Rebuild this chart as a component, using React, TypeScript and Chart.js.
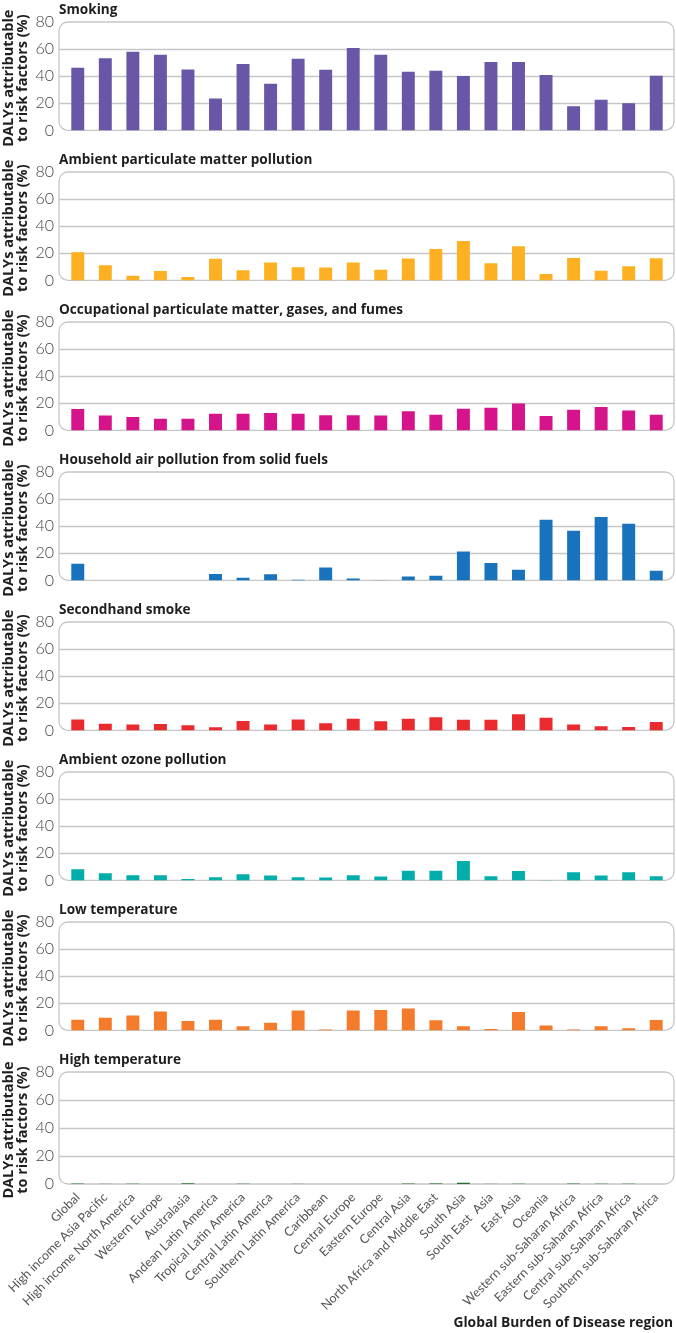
import React, { useEffect, useRef } from 'react';
import { Chart, registerables } from 'chart.js';
Chart.register(...registerables);

const regions = [
  'Global', 'High income Asia Pacific', 'High income North America', 'Western Europe', 'Australasia',
  'Andean Latin America', 'Tropical Latin America', 'Central Latin America', 'Southern Latin America',
  'Caribbean', 'Central Europe', 'Eastern Europe', 'Central Asia', 'North Africa and Middle East',
  'South Asia', 'South East  Asia', 'East Asia', 'Oceania', 'Western sub-Saharan Africa',
  'Eastern sub-Saharan Africa', 'Central sub-Saharan Africa', 'Southern sub-Saharan Africa',
];

const smoking = [46.3, 53.3, 58, 55.8, 45, 23.5, 49, 34.4, 52.9, 44.7, 60.8, 55.8, 43.3, 44, 40.1, 50.4, 50.4, 40.8, 17.8, 22.6, 20, 40.4];
const ambientPM = [20.7, 11.1, 3.5, 6.9, 2.6, 15.9, 7.4, 13.3, 9.7, 9.5, 13.3, 7.9, 16.1, 23.1, 29, 12.6, 25.2, 4.7, 16.6, 7.1, 10.4, 16.4];
const occupational = [15.8, 11, 9.8, 8.6, 8.6, 12.2, 12.2, 12.9, 12.2, 11.2, 11.2, 11, 14.1, 11.5, 16, 16.7, 19.8, 10.7, 15.3, 17.2, 14.6, 11.5];
const household = [12.3, 0, 0, 0, 0, 4.8, 1.9, 4.6, 0.4, 9.6, 1.4, 0.2, 2.9, 3.4, 21.4, 12.8, 7.9, 44.8, 36.6, 46.7, 41.9, 7.2];
const secondhand = [8.1, 5, 4.3, 4.8, 3.8, 2.4, 6.9, 4.3, 8.1, 5.2, 8.6, 6.7, 8.6, 9.7, 7.8, 7.8, 11.9, 9.3, 4.3, 3.1, 2.6, 6.2];
const ozone = [8.3, 5.2, 3.8, 3.8, 1, 2.4, 4.5, 3.6, 2.4, 2.1, 3.8, 2.9, 7.1, 7.1, 14.3, 3.1, 6.9, 0.2, 6, 3.6, 6, 3.1];
const lowTemperature = [7.8, 9.3, 11, 13.9, 7, 7.8, 3, 5.7, 14.6, 0.7, 14.6, 15, 16.2, 7.4, 3, 1, 13.6, 3.6, 0.6, 3, 1.5, 7.6];
const highTemperature = [0.3, 0.1, 0.2, 0, 0.5, 0, 0.2, 0, 0.1, 0, 0, 0, 0.3, 0.4, 0.9, 0.1, 0.2, 0, 0.3, 0.2, 0.2, 0];

const panelTitles = [
  'Smoking',
  'Ambient particulate matter pollution',
  'Occupational particulate matter, gases, and fumes',
  'Household air pollution from solid fuels',
  'Secondhand smoke',
  'Ambient ozone pollution',
  'Low temperature',
  'High temperature',
];
const panelSeries = [smoking, ambientPM, occupational, household, secondhand, ozone, lowTemperature, highTemperature];
const panelColors = ['#6a56a7', '#fdb022', '#d5138a', '#1872bc', '#e92a2f', '#03aeaa', '#f47b2b', '#22702e'];

const yMin = 0;
const yMax = 80;
const yStep = 20;
const gridValues = [20, 40, 60];
const yAxisTitle = ['DALYs attributable', 'to risk factors (%)'];
const xAxisTitle = 'Global Burden of Disease region';

const W = 676;
const PANEL_H = 150;
const LAST_H = 283;
const BOLD = '"Open Sans", "Noto Sans", sans-serif';

const decorPlugin = {
  id: 'decor',
  beforeDatasetsDraw(chart: any) {
    const { ctx, chartArea, scales } = chart;
    const y = scales.y;
    const top = y.getPixelForValue(yMax);
    const bottom = y.getPixelForValue(yMin);
    const left = chartArea.left - 5;
    const right = chartArea.right + 4;
    ctx.save();
    ctx.strokeStyle = '#c6c6c6';
    ctx.lineWidth = 1.3;
    gridValues.forEach((v) => {
      const py = Math.round(y.getPixelForValue(v)) + 0.5;
      ctx.beginPath();
      ctx.moveTo(left, py);
      ctx.lineTo(right, py);
      ctx.stroke();
    });
    const r = 9;
    ctx.beginPath();
    ctx.moveTo(left + r, top);
    ctx.lineTo(right - r, top);
    ctx.arcTo(right, top, right, top + r, r);
    ctx.lineTo(right, bottom - r);
    ctx.arcTo(right, bottom, right - r, bottom, r);
    ctx.lineTo(left + r, bottom);
    ctx.arcTo(left, bottom, left, bottom - r, r);
    ctx.lineTo(left, top + r);
    ctx.arcTo(left, top, left + r, top, r);
    ctx.closePath();
    ctx.stroke();
    ctx.restore();
  },
  afterDraw(chart: any) {
    const { ctx, chartArea } = chart;
    const opts = chart.options.plugins.decor || {};
    ctx.save();
    ctx.fillStyle = '#1e1e1e';
    ctx.font = 'bold 13.6px ' + BOLD;
    ctx.textAlign = 'left';
    ctx.textBaseline = 'alphabetic';
    ctx.fillText(opts.title || '', chartArea.left - 5, 14);

    const cy = (chartArea.top + chartArea.bottom) / 2 + 2;
    ctx.font = 'bold 14.5px ' + BOLD;
    ctx.textAlign = 'center';
    ctx.textBaseline = 'middle';
    [9, 23].forEach((x, i) => {
      ctx.save();
      ctx.translate(x, cy);
      ctx.rotate(-Math.PI / 2);
      ctx.fillText(yAxisTitle[i], 0, 0);
      ctx.restore();
    });

    if (opts.last) {
      ctx.font = 'bold 13.8px ' + BOLD;
      ctx.textAlign = 'right';
      ctx.textBaseline = 'alphabetic';
      ctx.fillText(xAxisTitle, 673, chart.height - 6);
    }
    ctx.restore();
  },
};

function Panel({ index }: { index: number }) {
  const ref = useRef<HTMLCanvasElement>(null);
  const last = index === panelTitles.length - 1;
  const h = last ? LAST_H : PANEL_H;
  useEffect(() => {
    if (!ref.current) return;
    const xScale: any = {
      display: last,
      grid: { display: false, drawTicks: false },
      border: { display: false },
      ticks: {
        autoSkip: false,
        minRotation: 45,
        maxRotation: 45,
        padding: 6,
        color: '#555',
        font: { family: 'Lato', size: 12.5 },
      },
    };
    if (last) {
      xScale.afterFit = (s: any) => {
        s.height = LAST_H - 134;
      };
    }
    const chart = new Chart(ref.current, {
      type: 'bar',
      data: {
        labels: regions,
        datasets: [
          {
            data: panelSeries[index],
            backgroundColor: panelColors[index],
            categoryPercentage: 1,
            barPercentage: 0.47,
          },
        ],
      },
      options: {
        animation: false,
        responsive: false,
        maintainAspectRatio: false,
        layout: { padding: { left: 0, right: 6, top: 22, bottom: last ? 0 : 16 } },
        plugins: {
          legend: { display: false },
          tooltip: { enabled: false },
          title: { display: false },
          decor: { title: panelTitles[index], last },
        } as any,
        scales: {
          x: xScale,
          y: {
            min: yMin,
            max: yMax,
            grid: { display: false, drawTicks: false },
            border: { display: false },
            ticks: {
              stepSize: yStep,
              padding: 10,
              color: '#444',
              font: { family: 'Lato', size: 16, weight: '300' as any },
            },
            afterFit: (s: any) => {
              s.width = 64;
            },
          },
        },
      },
      plugins: [decorPlugin as any],
    });
    return () => chart.destroy();
  }, [index]);
  return (
    <canvas
      ref={ref}
      width={W}
      height={h}
      style={{ position: 'absolute', left: 0, top: index * PANEL_H, width: W, height: h }}
    />
  );
}

export default function App() {
  return (
    <div style={{ position: 'absolute', left: 0, top: 0, width: W, height: 1333, background: '#fff' }}>
      {panelTitles.map((_, i) => (
        <Panel key={i} index={i} />
      ))}
    </div>
  );
}
